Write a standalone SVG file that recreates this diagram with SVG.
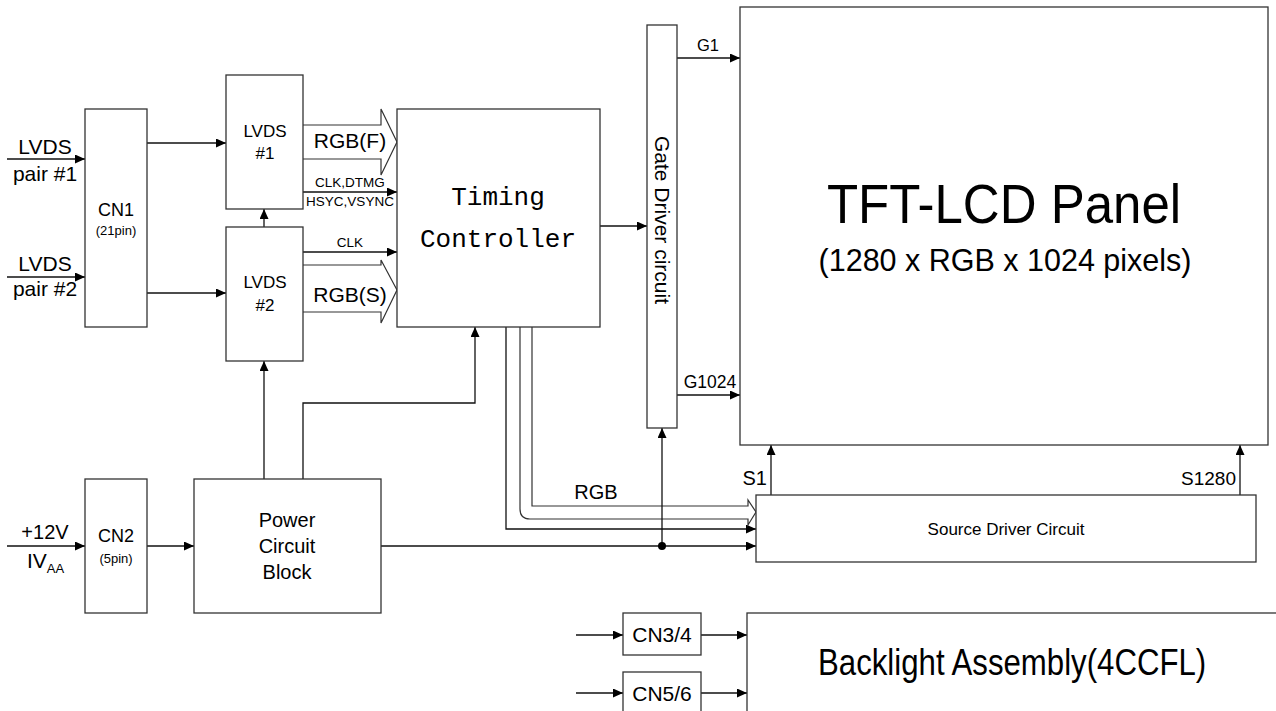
<svg xmlns="http://www.w3.org/2000/svg" width="1276" height="711" viewBox="0 0 1276 711">
<style>
.box{fill:#fff;stroke:#333;stroke-width:1.3}
.ln{fill:none;stroke:#111;stroke-width:1.3}
.hl{fill:none;stroke:#333;stroke-width:1.2}
text{font-family:"Liberation Sans",Arial,sans-serif;fill:#000}
.mono{font-family:"Liberation Mono","Courier New",monospace}
.m{text-anchor:middle}
.e{text-anchor:end}
</style>
<defs>
<marker id="ah" markerUnits="userSpaceOnUse" markerWidth="10" markerHeight="9" refX="10" refY="4.5" orient="auto">
<path d="M0,0 L10,4.5 L0,9 z" fill="#000"/>
</marker>
</defs>
<rect width="1276" height="711" fill="#fff"/>

<g id="connectors">
<line class="ln" x1="7" y1="159" x2="85" y2="159" marker-end="url(#ah)"/>
<line class="ln" x1="7" y1="277" x2="85" y2="277" marker-end="url(#ah)"/>
<line class="ln" x1="7" y1="546" x2="85" y2="546" marker-end="url(#ah)"/>
<line class="ln" x1="147" y1="143" x2="226" y2="143" marker-end="url(#ah)"/>
<line class="ln" x1="147" y1="293" x2="226" y2="293" marker-end="url(#ah)"/>
<line class="ln" x1="264" y1="227" x2="264" y2="209" marker-end="url(#ah)"/>
<polyline class="hl" points="303,125 381,125 381,109 397,142 381,175 381,159 303,159"/>
<line class="ln" x1="303" y1="192" x2="397" y2="192" marker-end="url(#ah)"/>
<line class="ln" x1="303" y1="252" x2="397" y2="252" marker-end="url(#ah)"/>
<polyline class="hl" points="303,265 381,265 381,260 397,290 381,323 381,312 303,312"/>
<line class="ln" x1="600" y1="226" x2="647" y2="226" marker-end="url(#ah)"/>
<line class="ln" x1="677" y1="58" x2="740" y2="58" marker-end="url(#ah)"/>
<line class="ln" x1="677" y1="395" x2="740" y2="395" marker-end="url(#ah)"/>
<line class="ln" x1="771" y1="495" x2="771" y2="445" marker-end="url(#ah)"/>
<line class="ln" x1="1240" y1="495" x2="1240" y2="445" marker-end="url(#ah)"/>
<path class="ln" d="M506,327 V529 H756" marker-end="url(#ah)"/>
<path class="hl" d="M532,327 V506 H748 V500 L756,512 L748,525 V519 H530 Q520,519 520,509 V327"/>
<line class="ln" x1="147" y1="546" x2="194" y2="546" marker-end="url(#ah)"/>
<line class="ln" x1="381" y1="546" x2="756" y2="546" marker-end="url(#ah)"/>
<line class="ln" x1="662" y1="546" x2="662" y2="428" marker-end="url(#ah)"/>
<circle cx="662" cy="546" r="4" fill="#000"/>
<line class="ln" x1="264" y1="479" x2="264" y2="361" marker-end="url(#ah)"/>
<path class="ln" d="M303,479 V403 H475 V327" marker-end="url(#ah)"/>
<line class="ln" x1="576" y1="635" x2="623" y2="635" marker-end="url(#ah)"/>
<line class="ln" x1="576" y1="693" x2="623" y2="693" marker-end="url(#ah)"/>
<line class="ln" x1="701" y1="635" x2="747" y2="635" marker-end="url(#ah)"/>
<line class="ln" x1="701" y1="693" x2="747" y2="693" marker-end="url(#ah)"/>
</g>

<g id="labels">
<text class="m" x="45" y="154" font-size="21">LVDS</text>
<text class="m" x="45" y="181" font-size="21">pair #1</text>
<text class="m" x="45" y="271" font-size="21">LVDS</text>
<text class="m" x="45" y="296" font-size="21">pair #2</text>
<text class="m" x="45" y="539" font-size="20">+12V</text>
<text x="27" y="568" font-size="21">IV<tspan font-size="13" dy="5">AA</tspan></text>
<text class="m" x="350" y="148" font-size="21">RGB(F)</text>
<text class="m" x="350" y="187" font-size="13.5">CLK,DTMG</text>
<text class="m" x="350" y="206" font-size="13.5">HSYC,VSYNC</text>
<text class="m" x="350" y="247" font-size="13.5">CLK</text>
<text class="m" x="350" y="302" font-size="21">RGB(S)</text>
<text class="m" x="708" y="51" font-size="16.5">G1</text>
<text class="m" x="710" y="388" font-size="17.5">G1024</text>
<text class="e" x="767" y="485" font-size="20">S1</text>
<text class="e" x="1236" y="485" font-size="19">S1280</text>
<text class="m" x="596" y="499" font-size="20">RGB</text>
</g>

<g id="cn1">
<rect class="box" x="85" y="109" width="62" height="218"/>
<text class="m" x="116" y="216" font-size="18">CN1</text>
<text class="m" x="116" y="235" font-size="13">(21pin)</text>
</g>
<g id="lvds1">
<rect class="box" x="226" y="75" width="77" height="134"/>
<text class="m" x="265" y="137" font-size="17">LVDS</text>
<text class="m" x="265" y="159" font-size="17">#1</text>
</g>
<g id="lvds2">
<rect class="box" x="226" y="227" width="77" height="134"/>
<text class="m" x="265" y="288" font-size="17">LVDS</text>
<text class="m" x="265" y="311" font-size="17">#2</text>
</g>
<g id="timing">
<rect class="box" x="397" y="109" width="203" height="218"/>
<text class="m mono" x="498" y="205" font-size="26">Timing</text>
<text class="m mono" x="498" y="247" font-size="26">Controller</text>
</g>
<g id="gate">
<rect class="box" x="647" y="25" width="30" height="403"/>
<text class="m" transform="translate(655,220) rotate(90)" font-size="21">Gate Driver circuit</text>
</g>
<g id="panel">
<rect class="box" x="740" y="7" width="528" height="438"/>
<text class="m" transform="translate(1004,223) scale(1,1.1)" font-size="51">TFT-LCD Panel</text>
<text class="m" transform="translate(1005,271) scale(1,1.05)" font-size="30.5">(1280 x RGB x 1024 pixels)</text>
</g>
<g id="source">
<rect class="box" x="756" y="495" width="500" height="67"/>
<text class="m" x="1006" y="535" font-size="17">Source Driver Circuit</text>
</g>
<g id="cn2">
<rect class="box" x="85" y="479" width="62" height="134"/>
<text class="m" x="116" y="542" font-size="18">CN2</text>
<text class="m" x="116" y="563" font-size="13">(5pin)</text>
</g>
<g id="power">
<rect class="box" x="194" y="479" width="187" height="134"/>
<text class="m" x="287" y="527" font-size="20">Power</text>
<text class="m" x="287" y="553" font-size="20">Circuit</text>
<text class="m" x="287" y="579" font-size="20">Block</text>
</g>
<g id="cn34">
<rect class="box" x="623" y="613" width="78" height="42"/>
<text class="m" x="662" y="642" font-size="21">CN3/4</text>
</g>
<g id="cn56">
<rect class="box" x="623" y="672" width="78" height="50"/>
<text class="m" x="662" y="701" font-size="21">CN5/6</text>
</g>
<g id="backlight">
<rect class="box" x="747" y="613" width="540" height="110"/>
<text transform="translate(818,675) scale(1,1.18)" font-size="31.2">Backlight Assembly(4CCFL)</text>
</g>
</svg>
